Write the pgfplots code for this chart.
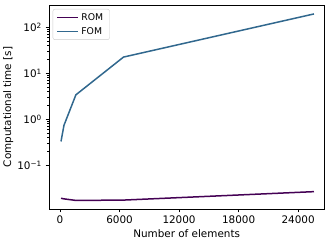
\documentclass[border=0pt]{standalone}
\usepackage{fontspec}
\setmainfont{DejaVu Sans}
\usepackage{pgfplots}
\pgfplotsset{compat=1.18}
\definecolor{romc}{HTML}{440154}
\definecolor{fomc}{HTML}{31688E}
\begin{document}
\fontsize{10.4bp}{12bp}\selectfont
\begin{tikzpicture}
\begin{axis}[
  scale only axis,
  width=275.3bp, height=204bp,
  ymode=log,
  xmin=-1110, xmax=26640,
  ymin=0.0112, ymax=305,
  scaled x ticks=false,
  xtick={0,6000,12000,18000,24000},
  xticklabels={0,6000,12000,18000,24000},
  ytick={0.1,1,10,100},
  yticklabels={10\textsuperscript{\char"2212 1},10\textsuperscript{0},10\textsuperscript{1},10\textsuperscript{2}},
  tick align=outside,
  xtick pos=left, ytick pos=left,
  major tick length=3.5bp,
  minor tick length=2bp,
  every tick/.style={black, line width=0.8bp},
  minor tick style={line width=0.6bp},
  axis line style={line width=0.8bp},
  xlabel={Number of elements},
  ylabel={Computational time [s]},
  xlabel style={yshift=2bp},
  ylabel style={yshift=-3bp},
  tick label style={font=\fontsize{10.4bp}{12bp}\selectfont},
  label style={font=\fontsize{10.4bp}{12bp}\selectfont},
  legend style={at={(0,1)}, anchor=north west, xshift=3.7bp, yshift=-4bp,
    draw=black!20, rounded corners=2bp, font=\fontsize{9.3bp}{11bp}\selectfont,
    inner xsep=3.5bp, inner ysep=2.5bp, row sep=2.5bp,
    nodes={inner xsep=2.8bp, inner ysep=1.5bp}},
  legend cell align=left,
  legend image code/.code={\draw[#1, line width=1.5bp] (0cm,0cm) -- (0.73cm,0cm);},
]
\addplot[romc, line width=1.5bp] coordinates {
 (100,0.0192) (400,0.0186) (1600,0.0172) (6400,0.0175) (25600,0.0267)
};
\addlegendentry{ROM}
\addplot[fomc, line width=1.5bp] coordinates {
 (100,0.33) (400,0.74) (1600,3.4) (6400,22.5) (25600,195)
};
\addlegendentry{FOM}
\end{axis}
\pgfresetboundingbox
\path (current axis.south west) ++(-49bp,-35bp) coordinate (bl);
\path (current axis.north east) ++(7.7bp,5bp) coordinate (tr);
\useasboundingbox (bl) rectangle (tr);
\end{tikzpicture}
\end{document}
